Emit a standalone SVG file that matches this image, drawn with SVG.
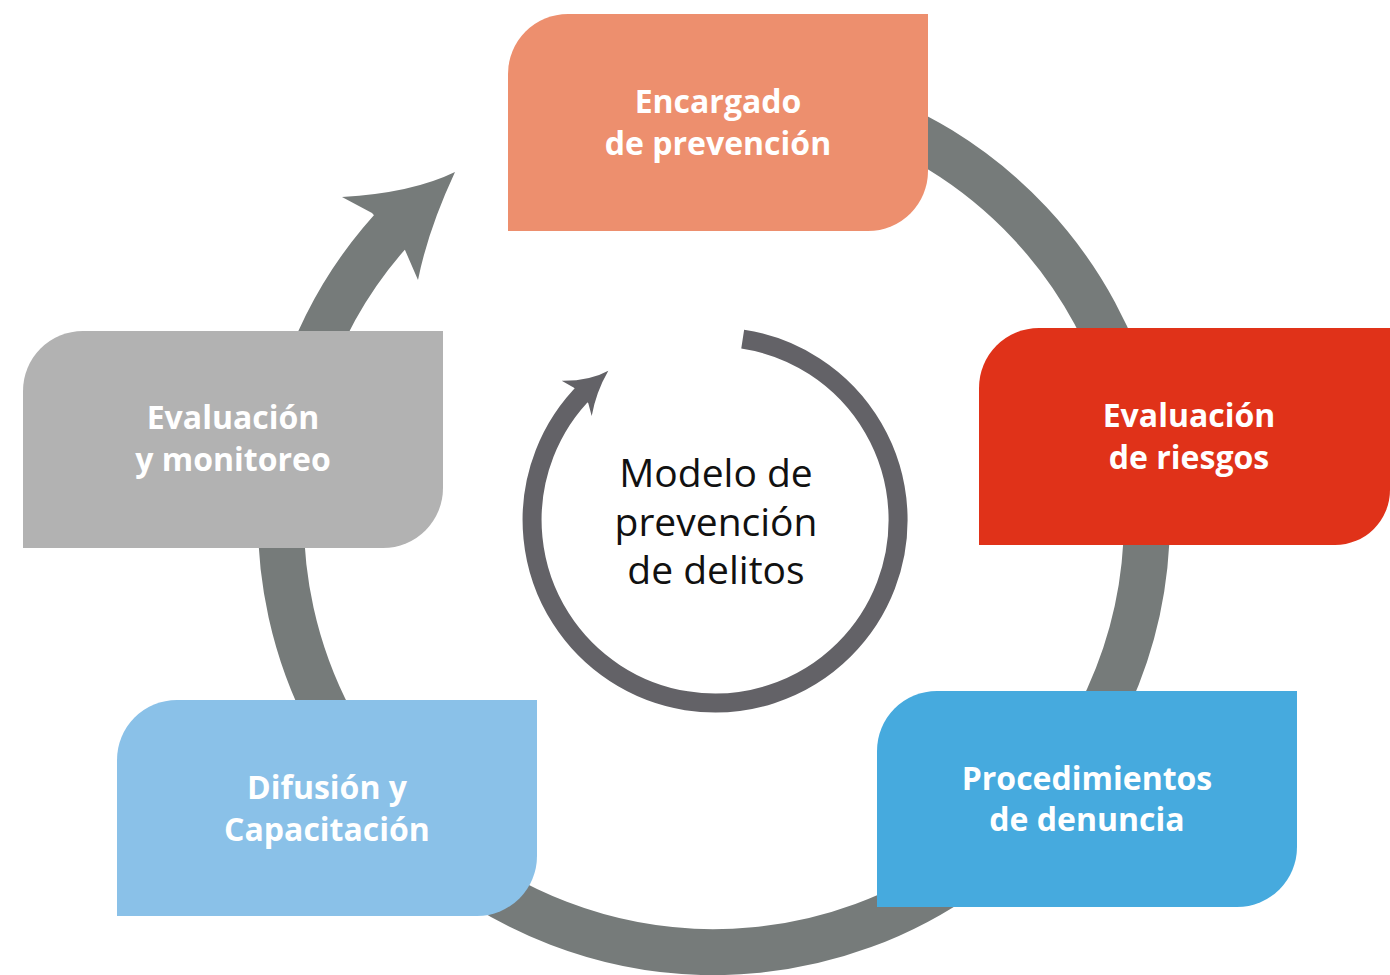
<svg xmlns="http://www.w3.org/2000/svg" width="1390" height="975" viewBox="0 0 1390 975">
<style>
.ring{fill:none;stroke:#767b7a;stroke-width:46}
.iring{fill:none;stroke:#636267;stroke-width:19}
.lbl{font-family:"Open Sans","Liberation Sans",sans-serif;font-weight:700;font-size:32px;fill:#fff;text-anchor:middle}
.ctr{font-family:"Open Sans","Liberation Sans",sans-serif;font-weight:400;font-size:39px;fill:#111;text-anchor:middle}
</style>
<rect width="1390" height="975" fill="#fff"/>
<g id="connectors">
<path class="ring" d="M531.0,126.6 A433,433 0 1 1 402.5,218.2"/>
<path d="M372,213 L342,197 Q412,193 455,172 Q428,230 418,280 L405,250 Z" fill="#767b7a"/>
<path class="iring" d="M742.7,339.1 A183,183 0 1 1 586.8,389.5"/>
<path d="M574,387.7 L561.7,380.7 Q590,381 608.3,370.7 Q596,392 591.7,416 L588.3,403.3 Z" fill="#636267"/>
</g>
<g id="node-encargado">
<path d="M568,14 H928 V171 A60,60 0 0 1 868,231 H508 V74 A60,60 0 0 1 568,14 Z" fill="#ed8f6e"/>
<text class="lbl" x="718" y="113">Encargado</text>
<text class="lbl" x="718" y="155">de prevención</text>
</g>
<g id="node-riesgos">
<path d="M1039,328 H1390 V490 A55,55 0 0 1 1335,545 H979 V388 A60,60 0 0 1 1039,328 Z" fill="#e03219"/>
<text class="lbl" x="1189" y="427">Evaluación</text>
<text class="lbl" x="1189" y="469">de riesgos</text>
</g>
<g id="node-denuncia">
<path d="M937,691 H1297 V847 A60,60 0 0 1 1237,907 H877 V751 A60,60 0 0 1 937,691 Z" fill="#46aade"/>
<text class="lbl" x="1087" y="790">Procedimientos</text>
<text class="lbl" x="1087" y="831">de denuncia</text>
</g>
<g id="node-difusion">
<path d="M177,700 H537 V856 A60,60 0 0 1 477,916 H117 V760 A60,60 0 0 1 177,700 Z" fill="#8ac1e8"/>
<text class="lbl" x="327" y="799">Difusión y</text>
<text class="lbl" x="327" y="841">Capacitación</text>
</g>
<g id="node-monitoreo">
<path d="M83,331 H443 V488 A60,60 0 0 1 383,548 H23 V391 A60,60 0 0 1 83,331 Z" fill="#b2b2b2"/>
<text class="lbl" x="233" y="429">Evaluación</text>
<text class="lbl" x="233" y="471">y monitoreo</text>
</g>
<g id="node-centro">
<text class="ctr" x="716" y="487">Modelo de</text>
<text class="ctr" x="716" y="536">prevención</text>
<text class="ctr" x="716" y="584">de delitos</text>
</g>
</svg>
